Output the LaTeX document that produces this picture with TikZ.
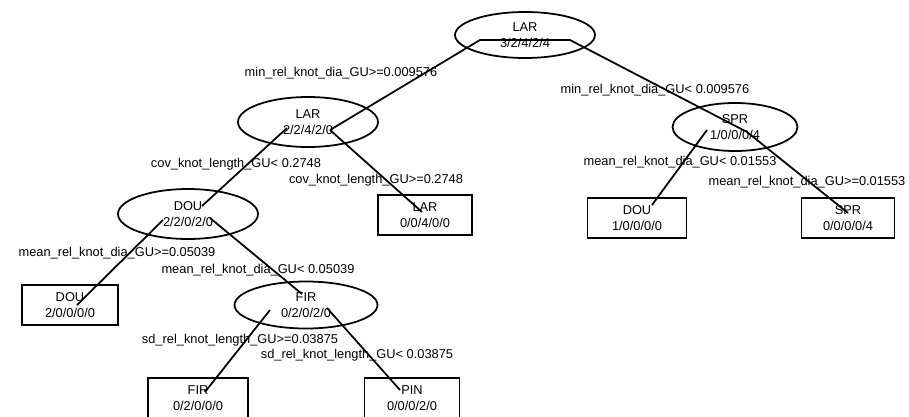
\documentclass[tikz,border=0pt]{standalone}
\usepackage{fontspec}
\setmainfont{Liberation Sans}
\usetikzlibrary{shapes.geometric}
\newcommand{\treeFont}{\fontsize{7.3}{9.2}\selectfont}
\newcommand{\edgeWidth}{1pt}
\newcommand{\leafHeight}{0.8cm}
\tikzset{
  splitnode/.style={draw, ellipse, line width=\edgeWidth, inner sep=0pt, align=center, font=\treeFont},
  leafnode/.style={draw, rectangle, line width=\edgeWidth, inner sep=0pt, align=center, font=\treeFont, minimum height=\leafHeight},
  rulelabel/.style={inner sep=0pt, font=\treeFont},
  branch/.style={line width=\edgeWidth},
}

\begin{document}
\begin{tikzpicture}[x=0.02cm, y=-0.02cm]
\useasboundingbox (0,0) rectangle (909,416);

% split nodes
\node[splitnode, minimum width=2.8cm, minimum height=0.92cm] (root) at (525,35) {LAR\\3/2/4/2/4};
\node[splitnode, minimum width=2.8cm, minimum height=1.0cm] (lar) at (308,122) {LAR\\2/2/4/2/0};
\node[splitnode, minimum width=2.5cm, minimum height=0.96cm] (spr) at (735,127) {SPR\\1/0/0/0/4};
\node[splitnode, minimum width=2.8cm, minimum height=1.0cm] (dou) at (188,214) {DOU\\2/2/0/2/0};
\node[splitnode, minimum width=2.86cm, minimum height=0.94cm] (fir) at (306,305) {FIR\\0/2/0/2/0};

% leaves
\node[leafnode, minimum width=1.88cm] (larleaf) at (425,215) {LAR\\0/0/4/0/0};
\node[leafnode, minimum width=1.98cm] (douleafr) at (637,218) {DOU\\1/0/0/0/0};
\node[leafnode, minimum width=1.86cm] (sprleaf) at (848,218) {SPR\\0/0/0/0/4};
\node[leafnode, minimum width=1.92cm] (douleafl) at (70,305) {DOU\\2/0/0/0/0};
\node[leafnode, minimum width=2.0cm] (firleaf) at (198,398) {FIR\\0/2/0/0/0};
\node[leafnode, minimum width=1.9cm] (pinleaf) at (412,398) {PIN\\0/0/0/2/0};

% branches
\draw[branch] ([shift={(22,8)}]lar.center) -- ([shift={(-45,5)}]root.center)
  -- ([shift={(45,5)}]root.center) -- ([shift={(12,5)}]spr.center);
\draw[branch] ([shift={(-21,6)}]lar.center) -- ([shift={(14,-8)}]dou.center);
\draw[branch] ([shift={(22,8)}]lar.center) -- ([shift={(-3,-3)}]larleaf.center);
\draw[branch] ([shift={(-28,3)}]spr.center) -- ([shift={(15,-13)}]douleafr.center);
\draw[branch] ([shift={(12,5)}]spr.center) -- ([shift={(0,-5)}]sprleaf.center);
\draw[branch] ([shift={(-25,6)}]dou.center) -- ([shift={(7,0)}]douleafl.center);
\draw[branch] ([shift={(22,4)}]dou.center) -- ([shift={(-4,-11)}]fir.center);
\draw[branch] ([shift={(-36,5)}]fir.center) -- ([shift={(7,-6)}]firleaf.center);
\draw[branch] ([shift={(21,3)}]fir.center) -- ([shift={(-12,-8)}]pinleaf.center);

% split rules
\node[rulelabel] (ruleroota) at (341,73) {min\_rel\_knot\_dia\_GU>=0.009576};
\node[rulelabel] (rulerootb) at (655,90) {min\_rel\_knot\_dia\_GU< 0.009576};
\node[rulelabel] (rulelara) at (236,164) {cov\_knot\_length\_GU< 0.2748};
\node[rulelabel] (rulelarb) at (376,180) {cov\_knot\_length\_GU>=0.2748};
\node[rulelabel] (rulespra) at (680,162) {mean\_rel\_knot\_dia\_GU< 0.01553};
\node[rulelabel] (rulesprb) at (807,182) {mean\_rel\_knot\_dia\_GU>=0.01553};
\node[rulelabel] (ruledoua) at (117,253) {mean\_rel\_knot\_dia\_GU>=0.05039};
\node[rulelabel] (ruledoub) at (258,270) {mean\_rel\_knot\_dia\_GU< 0.05039};
\node[rulelabel] (rulefira) at (240,340) {sd\_rel\_knot\_length\_GU>=0.03875};
\node[rulelabel] (rulefirb) at (357,355) {sd\_rel\_knot\_length\_GU< 0.03875};
\end{tikzpicture}
\end{document}
